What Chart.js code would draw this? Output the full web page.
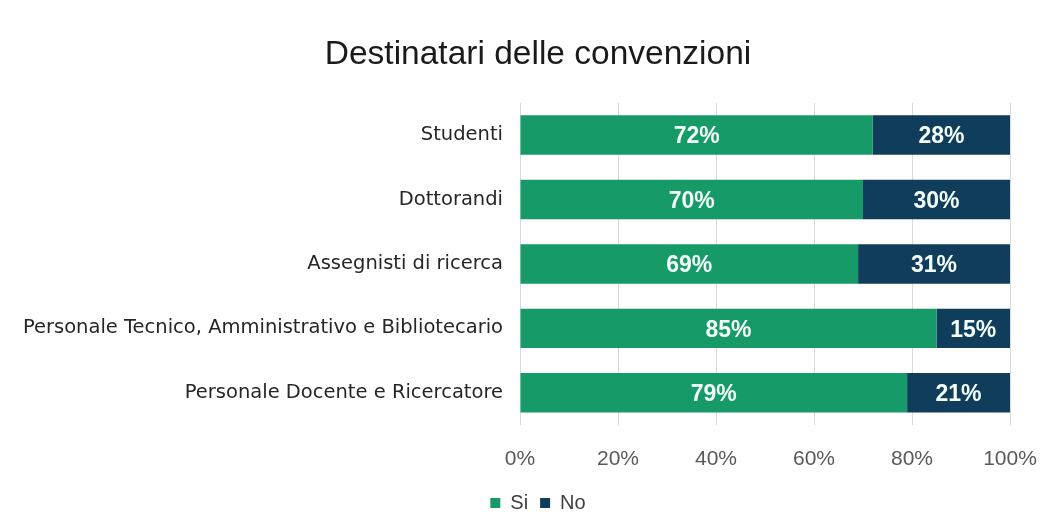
<!DOCTYPE html>
<html>
<head>
<meta charset="utf-8">
<script src="https://cdn.jsdelivr.net/npm/chart.js@4/dist/chart.umd.min.js"></script>
<style>
  html, body { margin: 0; padding: 0; background: #fff; }
  #wrap { width: 1047px; height: 517px; position: relative; }
</style>
</head>
<body>
<div id="wrap"><canvas id="chart" width="1047" height="517"></canvas></div>
<script>
const categories = [
  "Studenti",
  "Dottorandi",
  "Assegnisti di ricerca",
  "Personale Tecnico, Amministrativo e Bibliotecario",
  "Personale Docente e Ricercatore"
];
const siValues = [72, 70, 69, 85, 79];
const noValues = [28, 30, 31, 15, 21];
const xTicks = [0, 20, 40, 60, 80, 100];

const FONT = "'Liberation Sans', Arial, sans-serif";
const LABEL_FONT = "'DejaVu Sans', Verdana, sans-serif";

// scrive la percentuale al centro di ogni segmento
const segmentLabels = {
  id: "segmentLabels",
  afterDatasetsDraw(chart) {
    const ctx = chart.ctx;
    ctx.save();
    ctx.font = "bold 23px " + FONT;
    ctx.fillStyle = "#f4fffa";
    ctx.textAlign = "center";
    ctx.textBaseline = "middle";
    chart.data.datasets.forEach((ds, di) => {
      chart.getDatasetMeta(di).data.forEach((bar, i) => {
        const cx = (bar.x + bar.base) / 2;
        ctx.fillText(ds.data[i] + "%", cx, bar.y + 2);
      });
    });
    ctx.restore();
  }
};

// le etichette lunghe dell'asse y escono a sinistra del riquadro dell'asse:
// allarga l'area di ritaglio fino al bordo del canvas
const wideLabels = {
  id: "wideLabels",
  afterLayout(chart) {
    chart.scales.y.left = 0;
  }
};

new Chart(document.getElementById("chart"), {
  type: "bar",
  data: {
    labels: categories,
    datasets: [
      { label: "Si", data: siValues, backgroundColor: "#169b68", borderWidth: 0 },
      { label: "No", data: noValues, backgroundColor: "#0f3d5b", borderWidth: 0 }
    ]
  },
  options: {
    indexAxis: "y",
    responsive: false,
    animation: false,
    layout: { padding: { left: 66, right: 37, top: 0, bottom: -6 } },
    datasets: { bar: { categoryPercentage: 0.613, barPercentage: 1 } },
    scales: {
      x: {
        stacked: true,
        min: 0,
        max: 100,
        afterBuildTicks(scale) { scale.ticks = xTicks.map(v => ({ value: v })); },
        ticks: {
          callback: v => v + "%",
          color: "#595959",
          font: { family: FONT, size: 21 },
          padding: 10
        },
        grid: { color: "#d9d9d9", lineWidth: 1, drawTicks: true, tickLength: 12, tickColor: "transparent" },
        border: { display: false },
        afterFit(scale) { scale.height = 56; }
      },
      y: {
        stacked: true,
        ticks: {
          color: "#262626",
          font: { family: LABEL_FONT, size: 19.5 },
          padding: 9
        },
        grid: { display: false },
        border: { display: false },
        afterFit(scale) { scale.width = 454; }
      }
    },
    plugins: {
      title: {
        display: true,
        text: "Destinatari delle convenzioni",
        color: "#1a1a1a",
        font: { family: FONT, size: 33.5, weight: "normal" },
        padding: { top: 35, bottom: 27.7 }
      },
      legend: {
        position: "bottom",
        labels: {
          color: "#404040",
          font: { family: FONT, size: 20 },
          boxWidth: 10,
          boxHeight: 10,
          padding: 12
        }
      },
      tooltip: { enabled: false }
    }
  },
  plugins: [segmentLabels, wideLabels]
});
</script>
</body>
</html>
